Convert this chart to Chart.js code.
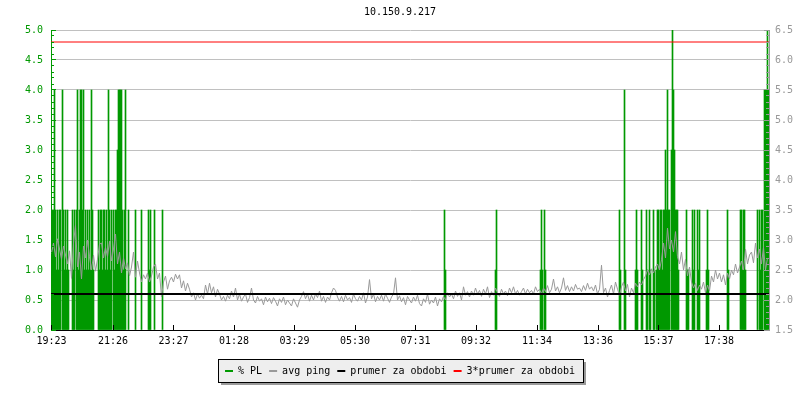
<!DOCTYPE html>
<html><head><meta charset="utf-8">
<script src="https://cdn.jsdelivr.net/npm/chart.js@4/dist/chart.umd.min.js"></script>
<style>html,body{margin:0;padding:0;background:#fff}canvas{display:block}</style>
</head><body>
<canvas id="c" width="800" height="400"></canvas>
<script>
// ---------- data ----------
const chartTitle = '10.150.9.217';
// x axis: minutes since 19:23
const tickMinutes = [0, 123, 244, 365, 486, 607, 728, 849, 971, 1093, 1214, 1335];
const tickLabels = ['19:23','21:26','23:27','01:28','03:29','05:30','07:31','09:32','11:34','13:36','15:37','17:38'];
const axisStartMinute = -1;
const axisEndMinute = 1435;
// avg ping [ms], one sample every 4 minutes
const pingStepMinutes = 4;
const avgPing = [
 2.78,2.95,2.72,3.02,2.85, 2.68,2.9,2.75,2.6,2.82, 2.36,2.95,3.25,2.55,2.8, 2.35,2.9,2.7,3.0,2.72, 2.5,2.75,2.48,2.68,2.93,
 2.95,2.7,2.88,2.72,2.98, 2.65,2.85,3.1,2.6,2.8, 2.45,2.7,2.52,2.62,2.4, 2.55,2.8,2.38,2.65,2.45, 2.3,2.42,2.35,2.45,2.3,
 2.4,2.55,2.6,2.35,2.45, 2.05,2.3,2.4,2.18,2.32, 2.38,2.3,2.43,2.35,2.42, 2.2,2.32,2.15,2.28,2.18, 2.05,2.12,2.0,2.1,2.03,
 2.08,2.02,2.25,2.1,2.28, 2.12,2.22,2.05,2.18,2.1, 2.0,2.06,1.98,2.08,2.02, 2.15,2.05,2.2,2.0,2.1, 1.98,2.05,2.1,1.96,2.04,
 2.2,2.0,1.95,2.06,1.98, 2.02,1.92,2.05,1.97,2.03, 1.94,2.04,1.98,1.9,2.02, 1.96,2.05,1.92,2.0,1.95, 1.9,2.02,1.95,1.88,2.0,
 2.06,2.14,2.02,2.1,1.98, 2.08,2.0,2.1,2.04,2.15, 1.98,2.06,1.96,2.05,2.0, 2.12,2.2,2.16,2.05,1.98, 2.06,1.97,2.08,2.0,2.04,
 1.96,2.1,2.02,1.98,2.06, 2.0,2.12,1.95,2.05,2.34, 2.02,2.1,1.97,2.06,2.0, 2.08,1.98,2.1,2.03,1.96, 2.05,2.1,2.37,2.0,2.07,
 1.97,2.04,1.92,2.06,2.0, 1.95,2.05,1.98,2.08,1.94, 1.9,2.02,1.96,2.1,1.93, 2.0,1.95,2.05,1.9,2.02, 1.97,2.06,2.0,2.12,2.05,
 2.1,2.02,2.15,2.06,2.12, 2.0,2.22,2.08,2.14,2.05, 2.15,2.08,2.2,2.1,2.16, 2.06,2.18,2.1,2.22,2.04, 2.14,2.08,2.2,2.12,2.06,
 2.18,2.1,2.15,2.07,2.2, 2.12,2.22,2.1,2.16,2.08, 2.14,2.2,2.1,2.18,2.12, 2.16,2.1,2.22,2.14,2.18, 2.1,2.2,2.14,2.24,2.12,
 2.18,2.35,2.15,2.22,2.12, 2.2,2.37,2.16,2.24,2.14, 2.22,2.15,2.26,2.18,2.2, 2.14,2.24,2.16,2.28,2.18, 2.22,2.15,2.25,2.1,2.18,
 2.58,2.12,2.2,2.05,2.16, 2.25,2.1,2.3,2.18,2.08, 2.22,2.3,2.15,2.26,2.05, 2.2,2.12,2.28,2.22,2.3, 2.25,2.34,2.4,2.5,2.42,
 2.52,2.45,2.55,2.6,2.5, 2.67,2.95,2.7,3.2,2.85, 3.0,2.8,3.14,2.72,2.6, 2.8,2.5,2.68,2.4,2.55, 2.3,2.2,2.28,2.16,2.25,
 2.18,2.3,2.12,2.25,2.15, 2.4,2.3,2.5,2.35,2.45, 2.3,2.42,2.25,2.45,2.35, 2.5,2.42,2.6,2.45,2.55, 2.65,2.5,2.85,2.6,2.75,
 2.8,2.62,2.95,2.7,2.85, 2.6,2.88,2.5,2.7
];
// packet loss [%]: [minute, value] (all other samples are 0)
const packetLoss = [
 [0,1],[2,2],[4,2],[6,4],[8,2],[10,1],[12,2],[14,1],[16,2],[18,2],
 [22,4],[24,2],[26,1],[28,2],[30,1],[32,2],[34,1],[42,2],[44,1],[46,2],
 [50,2],[52,4],[54,1],[56,2],[58,4],[60,4],[62,2],[64,4],[66,1],[68,2],[70,1],[72,2],[74,1],[76,2],[78,1],[80,4],[82,2],[84,1],
 [94,2],[96,1],[98,2],[100,2],[102,1],[104,2],[106,2],[108,1],[110,2],[112,1],[114,4],[116,2],[118,1],[120,2],
 [124,2],[126,1],[128,2],[130,2],[132,3],[134,4],[136,4],[138,4],[140,4],[142,2],[144,1],[146,2],[148,4],
 [154,2],[168,2],[180,2],[194,2],[196,1],[198,2],[206,2],[222,2],
 [786,2],[788,1],[888,1],[890,2],[978,1],[980,2],[982,1],[986,2],[988,1],
 [1136,2],[1138,1],[1146,4],[1148,1],[1168,1],[1170,2],[1172,1],[1180,2],[1182,1],[1190,2],[1192,1],[1196,2],[1198,1],
 [1204,2],[1206,1],[1210,1],[1212,2],[1214,2],[1216,1],[1218,2],[1220,2],[1222,1],[1224,2],[1226,2],[1228,3],[1230,2],
 [1232,4],[1234,2],[1236,2],[1240,3],[1242,5],[1244,4],[1246,3],[1248,2],[1250,2],[1252,2],[1254,1],
 [1270,2],[1272,1],[1274,1],[1282,2],[1284,1],[1286,2],[1292,2],[1294,1],[1296,2],[1310,1],[1312,2],[1314,1],
 [1352,2],[1354,1],[1378,2],[1380,2],[1382,1],[1384,2],[1386,2],[1388,1],
 [1412,2],[1416,2],[1418,1],[1420,2],[1422,2],[1426,4],[1428,4],[1430,4],[1432,5],[1434,4]
];
const prumerZaObdobi = 2.1;      // ms
const triplePrumer = 6.3;        // ms
const seriesNames = ['% PL', 'avg ping', 'prumer za obdobi', '3*prumer za obdobi'];
const yLeftRange = [0, 5];
const yRightRange = [1.5, 6.5];

// ---------- style ----------
const FONT = "'DejaVu Sans Mono', monospace";
const GREEN = '#009900', GRAY = '#999999', GRID = '#c0c0c0';

const rrdDecor = {
  id: 'rrdDecor',
  beforeDraw(chart) {
    const lg = chart.legend;
    if (!lg || !lg.lineWidths) return;
    const p = lg.options.labels.padding;
    const rowW = lg.lineWidths[0];
    const x0 = (lg.left + p + lg.right - rowW) / 2;
    const left = Math.round(x0 - 7) + 0.5;
    const right = Math.round(x0 + rowW - p + 8) + 0.5;
    const top = Math.round(lg.top) + 0.5;
    const h = 23, w = right - left;
    const ctx = chart.ctx;
    ctx.save();
    ctx.fillStyle = '#9a9a9a';
    ctx.fillRect(left + 2.5, top + 2.5, w, h);
    ctx.fillStyle = '#eeeeee';
    ctx.fillRect(left, top, w, h);
    ctx.strokeStyle = '#000'; ctx.lineWidth = 1;
    ctx.strokeRect(left, top, w, h);
    ctx.restore();
  },
  afterDatasetsDraw(chart) {
    const {ctx, chartArea: a, scales} = chart;
    const al = v => Math.round(v - 0.5) + 0.5;
    ctx.save(); ctx.lineWidth = 1;
    // left axis minor ticks
    ctx.strokeStyle = GREEN; ctx.beginPath();
    for (let i = 0; i <= 50; i++) {
      const py = al(scales.y.getPixelForValue(i / 10));
      const len = i % 5 === 0 ? 5 : 3;
      ctx.moveTo(a.left, py); ctx.lineTo(a.left + len, py);
    }
    ctx.stroke();
    // right axis minor ticks
    ctx.strokeStyle = GRAY; ctx.beginPath();
    for (let i = 15; i <= 65; i++) {
      const py = al(scales.y1.getPixelForValue(i / 10));
      const len = i % 5 === 0 ? 5 : 3;
      ctx.moveTo(a.right, py); ctx.lineTo(a.right - len, py);
    }
    ctx.stroke();
    // x axis ticks (inward)
    ctx.strokeStyle = '#000'; ctx.beginPath();
    tickMinutes.forEach(m => {
      const px = al(scales.x.getPixelForValue(m));
      ctx.moveTo(px, a.bottom); ctx.lineTo(px, a.bottom - 5);
    });
    ctx.stroke();
    ctx.restore();
  }
};

const datasets = [
  { label: seriesNames[0], type: 'bar', data: packetLoss.map(([m, v]) => ({x: m, y: v})),
    backgroundColor: GREEN, borderWidth: 0, barThickness: 1, xAxisID: 'x', yAxisID: 'y', order: 4 },
  { label: seriesNames[1], type: 'line', data: avgPing.map((v, i) => ({x: i * pingStepMinutes, y: v})),
    borderColor: GRAY, backgroundColor: GRAY, borderWidth: 1, pointRadius: 0, tension: 0, fill: false,
    xAxisID: 'x', yAxisID: 'y1', order: 3 },
  { label: seriesNames[2], type: 'line', data: [{x: axisStartMinute, y: prumerZaObdobi}, {x: axisEndMinute, y: prumerZaObdobi}],
    borderColor: '#000000', backgroundColor: '#000000', borderWidth: 2, pointRadius: 0, fill: false,
    xAxisID: 'x', yAxisID: 'y1', order: 2 },
  { label: seriesNames[3], type: 'line', data: [{x: axisStartMinute, y: triplePrumer}, {x: axisEndMinute, y: triplePrumer}],
    borderColor: '#ff0000', backgroundColor: '#ff0000', borderWidth: 1, pointRadius: 0, fill: false,
    xAxisID: 'x', yAxisID: 'y1', order: 1 }
];

new Chart(document.getElementById('c'), {
  type: 'bar',
  data: { datasets },
  options: {
    responsive: false, animation: false, devicePixelRatio: 1, events: [],
    layout: { padding: { left: 0, right: 0, top: 0, bottom: 14 } },
    plugins: {
      title: { display: true, text: chartTitle, color: '#000',
        font: { family: FONT, size: 10, weight: 'normal' }, padding: { top: 6, bottom: 12 } },
      legend: { display: true, position: 'bottom', align: 'center',
        labels: { boxWidth: 8, boxHeight: 2, padding: 7, color: '#000',
          font: { family: FONT, size: 10 },
          generateLabels: chart => chart.data.datasets.map((d, i) => {
            const c = d.type === 'bar' ? d.backgroundColor : d.borderColor;
            return { text: d.label, fillStyle: c, strokeStyle: c, lineWidth: 0, hidden: false, datasetIndex: i, fontColor: '#000' };
          }) } },
      tooltip: { enabled: false }
    },
    scales: {
      x: { type: 'linear', position: 'bottom', min: axisStartMinute, max: axisEndMinute, offset: false,
        grid: { display: false, drawTicks: false },
        border: { display: true, color: '#000', width: 1 },
        afterBuildTicks: s => { s.ticks = tickMinutes.map(v => ({ value: v })); },
        afterFit: s => { s.height = 29; },
        ticks: { autoSkip: false, maxRotation: 0, minRotation: 0, color: '#000', padding: 5,
          font: { family: FONT, size: 10 }, callback: (v, i) => tickLabels[i] } },
      y: { type: 'linear', position: 'left', min: yLeftRange[0], max: yLeftRange[1],
        grid: { color: GRID, drawTicks: false },
        border: { display: true, color: GREEN, width: 1 },
        afterFit: s => { s.width = 51; },
        ticks: { stepSize: 0.5, color: GREEN, padding: 8, font: { family: FONT, size: 10 },
          callback: v => Number(v).toFixed(1) } },
      y1: { type: 'linear', position: 'right', min: yRightRange[0], max: yRightRange[1],
        grid: { display: false, drawTicks: false },
        border: { display: true, color: GRAY, width: 1 },
        afterFit: s => { s.width = 31; },
        ticks: { stepSize: 0.5, color: GRAY, padding: 6, font: { family: FONT, size: 10 },
          callback: v => Number(v).toFixed(1) } }
    }
  },
  plugins: [rrdDecor]
});
</script>
</body></html>
